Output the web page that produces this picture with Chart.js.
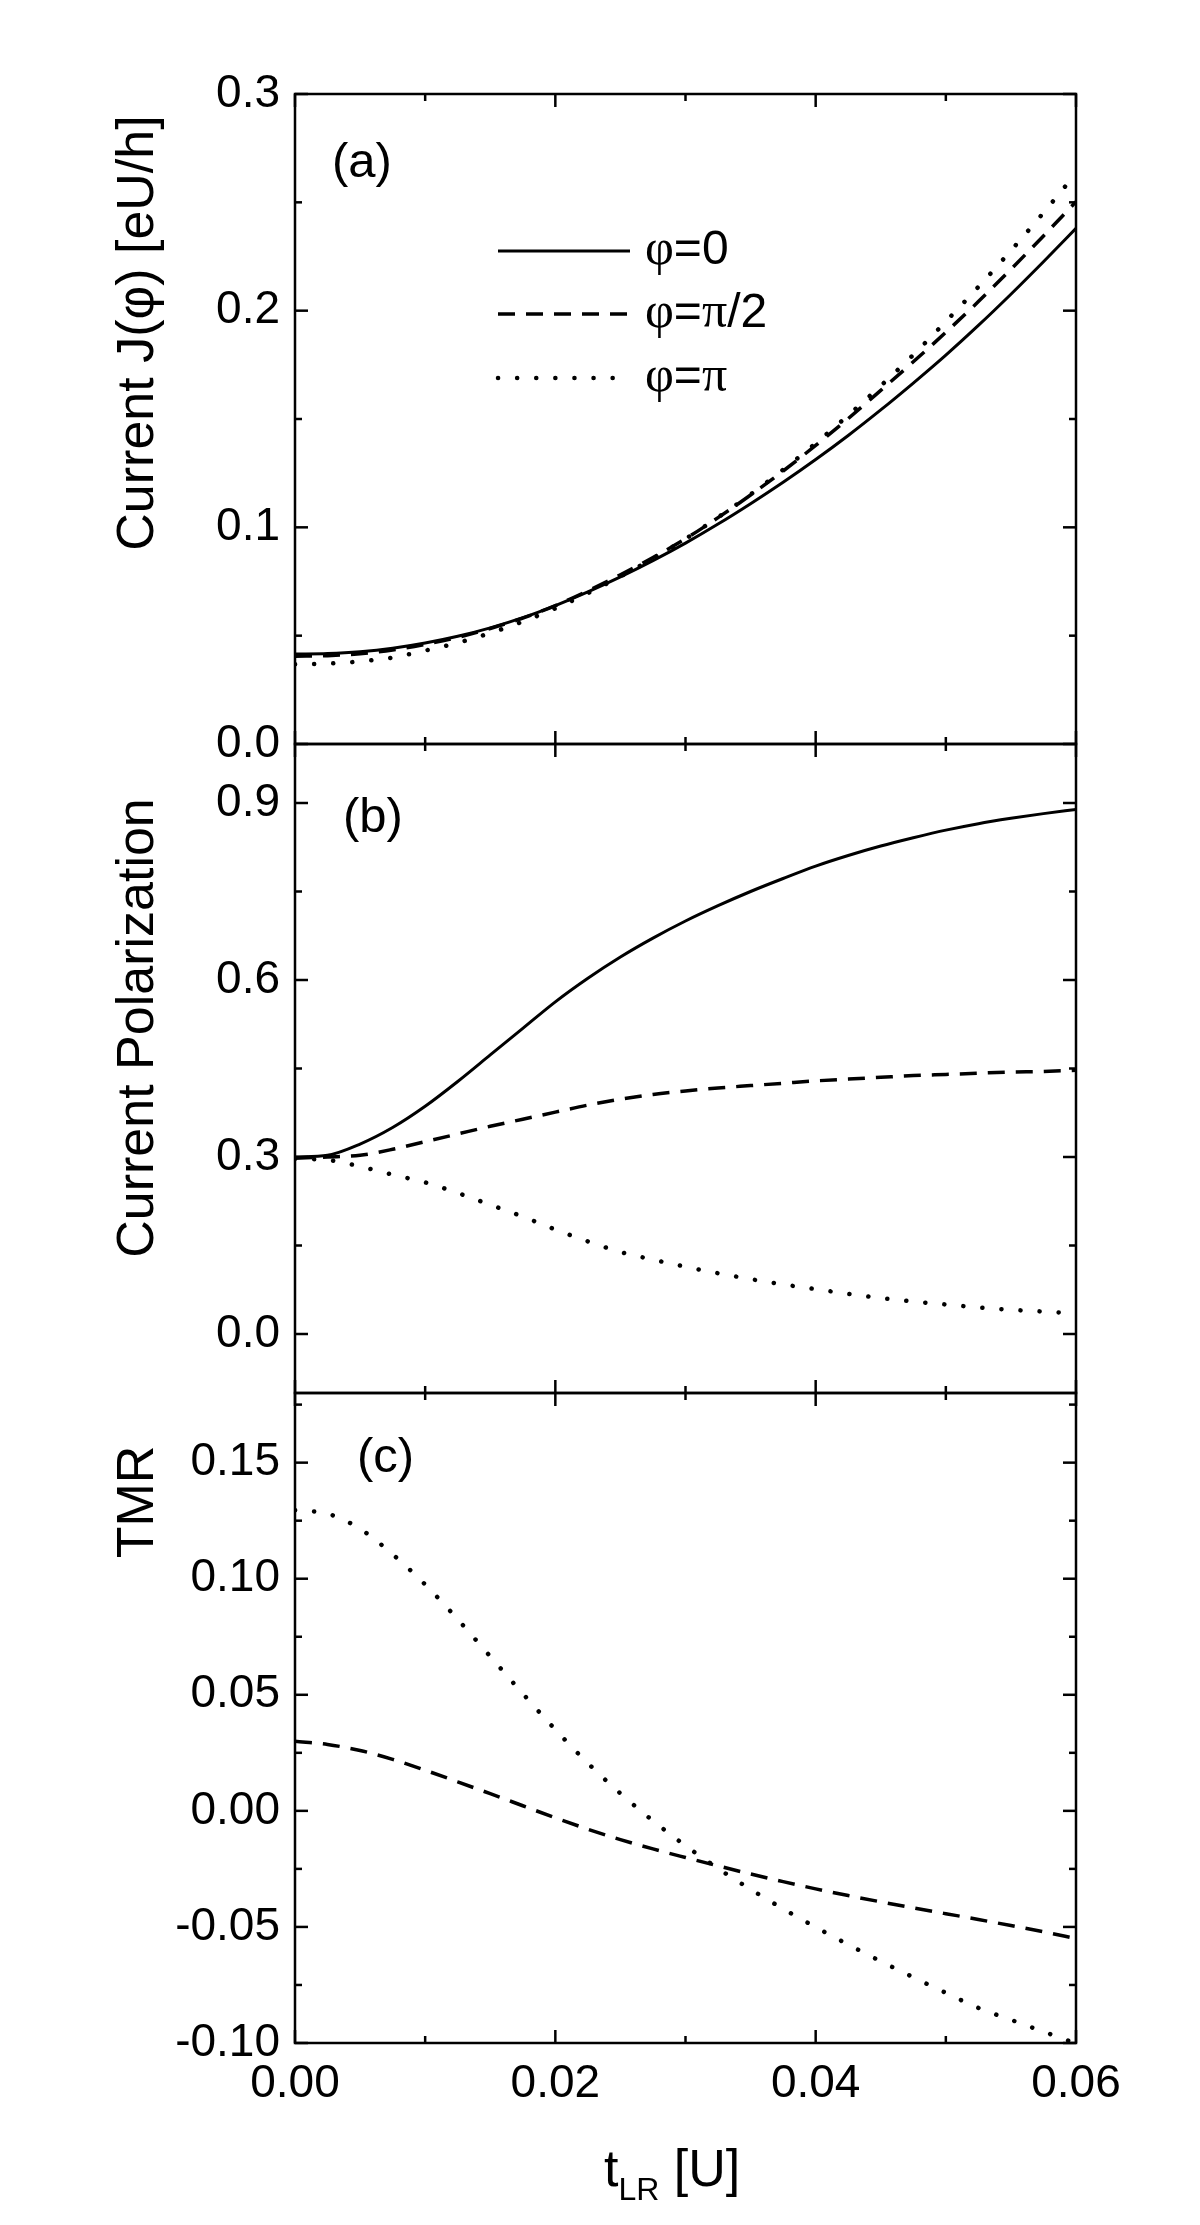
<!DOCTYPE html>
<html><head><meta charset="utf-8">
<script src="https://cdn.jsdelivr.net/npm/chart.js@4"></script>
<style>
html,body{margin:0;padding:0;background:#fff;}
#wrap{position:relative;width:1200px;height:2225px;background:#fff;}
canvas{position:absolute;left:0;}
</style></head><body>
<div id="wrap">
<canvas id="ca" width="1200" height="800" style="top:0px"></canvas>
<canvas id="cb" width="1200" height="750" style="top:700px"></canvas>
<canvas id="cc" width="1200" height="875" style="top:1350px"></canvas>
</div>
<script>
// ---------------- DATA ----------------
const tLR = [0, 0.0025, 0.005, 0.0075, 0.01, 0.0125, 0.015, 0.0175, 0.02, 0.0225, 0.025, 0.0275, 0.03,
             0.0325, 0.035, 0.0375, 0.04, 0.0425, 0.045, 0.0475, 0.05, 0.0525, 0.055, 0.0575, 0.06];

const currentPhi0 = [0.0415, 0.04175, 0.0426, 0.0442, 0.0466, 0.0497, 0.0536, 0.0583, 0.0639, 0.0702, 0.0771, 0.0846, 0.0927,
                     0.1015, 0.1109, 0.1208, 0.1313, 0.1424, 0.1542, 0.1666, 0.1795, 0.1932, 0.2076, 0.2226, 0.2380];
const currentPhiHalfPi = [0.0405, 0.04075, 0.0417, 0.0434, 0.0460, 0.0492, 0.0533, 0.0581, 0.0639, 0.0707, 0.0781, 0.0861, 0.0947,
                     0.1045, 0.1149, 0.1260, 0.1378, 0.1502, 0.1632, 0.1764, 0.1900, 0.2042, 0.2191, 0.2345, 0.2503];
const currentPhiPi = [0.0368, 0.0371, 0.0381, 0.0399, 0.0431, 0.0467, 0.0512, 0.0565, 0.0626, 0.0696, 0.0773, 0.0856, 0.0947,
                     0.1046, 0.1152, 0.1266, 0.1388, 0.1517, 0.1653, 0.1796, 0.1950, 0.2110, 0.2277, 0.2452, 0.2634];

const polPhi0 = [0.300, 0.303, 0.322, 0.350, 0.386, 0.428, 0.473, 0.518, 0.563, 0.603, 0.639, 0.671, 0.700,
                 0.726, 0.750, 0.772, 0.793, 0.811, 0.827, 0.841, 0.854, 0.865, 0.874, 0.882, 0.889];
const polPhiHalfPi = [0.298, 0.300, 0.303, 0.313, 0.326, 0.339, 0.352, 0.364, 0.376, 0.388, 0.398, 0.406, 0.412,
                 0.417, 0.421, 0.425, 0.429, 0.432, 0.435, 0.438, 0.440, 0.442, 0.444, 0.445, 0.447];
const polPhiPi = [0.297, 0.295, 0.284, 0.270, 0.257, 0.239, 0.219, 0.199, 0.177, 0.157, 0.139, 0.126, 0.114,
                 0.103, 0.093, 0.084, 0.076, 0.068, 0.061, 0.055, 0.050, 0.045, 0.041, 0.038, 0.035];

const tmrPhiHalfPi = [0.0300, 0.0286, 0.0260, 0.0222, 0.0175, 0.0125, 0.0074, 0.0022, -0.0030, -0.0079, -0.0124, -0.0164, -0.0201,
                 -0.0237, -0.0272, -0.0305, -0.0336, -0.0365, -0.0392, -0.0418, -0.0443, -0.0468, -0.0494, -0.0521, -0.0550];
const tmrPhiPi = [0.1295, 0.1280, 0.1215, 0.1105, 0.0975, 0.0825, 0.0665, 0.0505, 0.0350, 0.0205, 0.0075, -0.0043, -0.0150,
                 -0.0248, -0.0338, -0.0422, -0.0501, -0.0576, -0.0648, -0.0717, -0.0784, -0.0849, -0.0900, -0.0951, -0.1002];

const seriesLabels = ['φ=0', 'φ=π/2', 'φ=π'];
const xTicks = [0, 0.02, 0.04, 0.06];
const xMinorTicks = [0.01, 0.03, 0.05];
const yTicksA = [0.0, 0.1, 0.2, 0.3];
const yMinorA = [0.05, 0.15, 0.25];
const yTicksB = [0.0, 0.3, 0.6, 0.9];
const yMinorB = [0.15, 0.45, 0.75];
const yTicksC = [-0.10, -0.05, 0.00, 0.05, 0.10, 0.15];
const yMinorC = [-0.075, -0.025, 0.025, 0.075, 0.125, 0.175];
const yTitles = ['Current J(φ) [eU/h]', 'Current Polarization', 'TMR'];
const panelTags = ['(a)', '(b)', '(c)'];

// ---------------- STYLE ----------------
const SANS = '"Liberation Sans", Arial, sans-serif';
const SERIF = '"Liberation Serif", "Times New Roman", serif';
const styles = [
  {borderDash: [], borderWidth: 3, borderCapStyle: 'butt'},
  {borderDash: [17, 11], borderWidth: 3.5, borderCapStyle: 'butt'},
  {borderDash: [0.1, 19], borderWidth: 4.5, borderCapStyle: 'round'}
];

function pts(arr){ return tLR.map((x,i)=>({x:x, y:arr[i]})); }
function ds(arr, si){
  return Object.assign({label: seriesLabels[si], data: pts(arr), borderColor:'#000', backgroundColor:'#000',
    pointRadius:0, fill:false, cubicInterpolationMode:'monotone'}, styles[si]);
}

const framePlugin = {
  id: 'frame',
  afterDatasetsDraw(chart, args, o){
    const ctx = chart.ctx, ca = chart.chartArea, x = chart.scales.x, y = chart.scales.y;
    const off = chart.canvas.offsetTop;
    ctx.save();
    ctx.strokeStyle = '#000'; ctx.lineWidth = 2.5; ctx.lineCap = 'butt'; ctx.setLineDash([]);
    const L = (a,b,c,d)=>{ctx.beginPath();ctx.moveTo(a,b);ctx.lineTo(c,d);ctx.stroke();};
    ctx.strokeRect(ca.left, ca.top, ca.right-ca.left, ca.bottom-ca.top);
    const MJ = 13, MN = 7;
    xTicks.forEach(v=>{const p=x.getPixelForValue(v); L(p,ca.bottom,p,ca.bottom-MJ); L(p,ca.top,p,ca.top+MJ);});
    xMinorTicks.forEach(v=>{const p=x.getPixelForValue(v); L(p,ca.bottom,p,ca.bottom-MN); L(p,ca.top,p,ca.top+MN);});
    o.major.forEach(v=>{const p=y.getPixelForValue(v); L(ca.left,p,ca.left+MJ,p); L(ca.right,p,ca.right-MJ,p);});
    o.minor.forEach(v=>{const p=y.getPixelForValue(v); L(ca.left,p,ca.left+MN,p); L(ca.right,p,ca.right-MN,p);});
    // texts
    ctx.fillStyle = '#000';
    ctx.font = '49px ' + SANS; ctx.textAlign = 'left'; ctx.textBaseline = 'alphabetic';
    ctx.fillText(o.tag, o.tagX, o.tagY - off);
    ctx.save();
    ctx.translate(139, o.titleY - off);
    ctx.rotate(-Math.PI/2);
    ctx.font = '52px ' + SANS; ctx.textAlign = 'center'; ctx.textBaseline = 'middle';
    ctx.fillText(o.title, 0, 0);
    ctx.restore();
    if (o.legend) {
      const rows = [251, 314, 378];
      chart.data.datasets.forEach((d, i)=>{
        const yy = rows[i] - off;
        ctx.save();
        ctx.lineWidth = d.borderWidth; ctx.setLineDash(d.borderDash); ctx.lineCap = d.borderCapStyle;
        L(498, yy, 630, yy);
        ctx.restore();
        const lab = d.label;
        ctx.textBaseline = 'middle'; ctx.textAlign = 'left';
        let cx = 645;
        for (const ch of lab) {
          ctx.font = ((ch === 'π' || ch === 'φ') ? '50px ' + SERIF : '48px ' + SANS);
          ctx.fillText(ch, cx, yy);
          cx += ctx.measureText(ch).width;
        }
      });
    }
    if (o.xtitle) {
      const base = 2186 - off;
      ctx.textBaseline = 'alphabetic'; ctx.textAlign = 'left';
      ctx.font = '52px ' + SANS;
      let cx = 604;
      ctx.fillText('t', cx, base); cx += ctx.measureText('t').width;
      ctx.font = '32px ' + SANS;
      ctx.fillText('LR', cx, base + 14); cx += ctx.measureText('LR').width;
      ctx.font = '52px ' + SANS;
      ctx.fillText(' [U]', cx, base);
    }
    ctx.restore();
  }
};

function makeChart(id, datasets, yMin, yMax, yTickVals, digits, opts, showX, padding){
  const xs = {type:'linear', min:0, max:0.06, display: showX,
    afterBuildTicks: s=>{ s.ticks = xTicks.map(v=>({value:v})); },
    grid:{display:false, drawTicks:false}, border:{display:false},
    ticks:{padding:14, color:'#000', font:{size:46, family:SANS}, maxRotation:0, autoSkip:false,
      callback: v=>Number(v).toFixed(2)}};
  if (showX) xs.afterFit = s=>{ s.height = 182; };
  return new Chart(document.getElementById(id), {
    type:'line',
    data:{datasets: datasets},
    options:{
      responsive:false, animation:false, events:[],
      layout:{padding: padding},
      plugins:{legend:{display:false}, tooltip:{enabled:false}, frame: opts},
      scales:{
        x: xs,
        y:{type:'linear', min:yMin, max:yMax,
          afterBuildTicks: s=>{ s.ticks = yTickVals.map(v=>({value:v})); },
          afterFit: s=>{ s.width = 295; },
          grid:{display:false, drawTicks:false}, border:{display:false},
          ticks:{padding:15, color:'#000', font:{size:46, family:SANS}, autoSkip:false,
            callback: v=>Number(v).toFixed(digits)}}
      }
    },
    plugins:[framePlugin]
  });
}

makeChart('ca', [ds(currentPhi0,0), ds(currentPhiHalfPi,1), ds(currentPhiPi,2)], 0, 0.3, yTicksA, 1,
  {major:yTicksA, minor:yMinorA, tag:panelTags[0], tagX:332, tagY:177, title:yTitles[0], titleY:333, legend:true},
  false, {left:0, right:124, top:94, bottom:56});
makeChart('cb', [ds(polPhi0,0), ds(polPhiHalfPi,1), ds(polPhiPi,2)], -0.1, 1.0, yTicksB, 1,
  {major:yTicksB, minor:yMinorB, tag:panelTags[1], tagX:343, tagY:832, title:yTitles[1], titleY:1028},
  false, {left:0, right:124, top:44, bottom:57});
makeChart('cc', [ds(tmrPhiHalfPi,1), ds(tmrPhiPi,2)], -0.1, 0.18, yTicksC, 2,
  {major:yTicksC, minor:yMinorC, tag:panelTags[2], tagX:357, tagY:1472, title:yTitles[2], titleY:1502, xtitle:true},
  true, {left:0, right:124, top:43, bottom:0});
</script>
</body></html>
